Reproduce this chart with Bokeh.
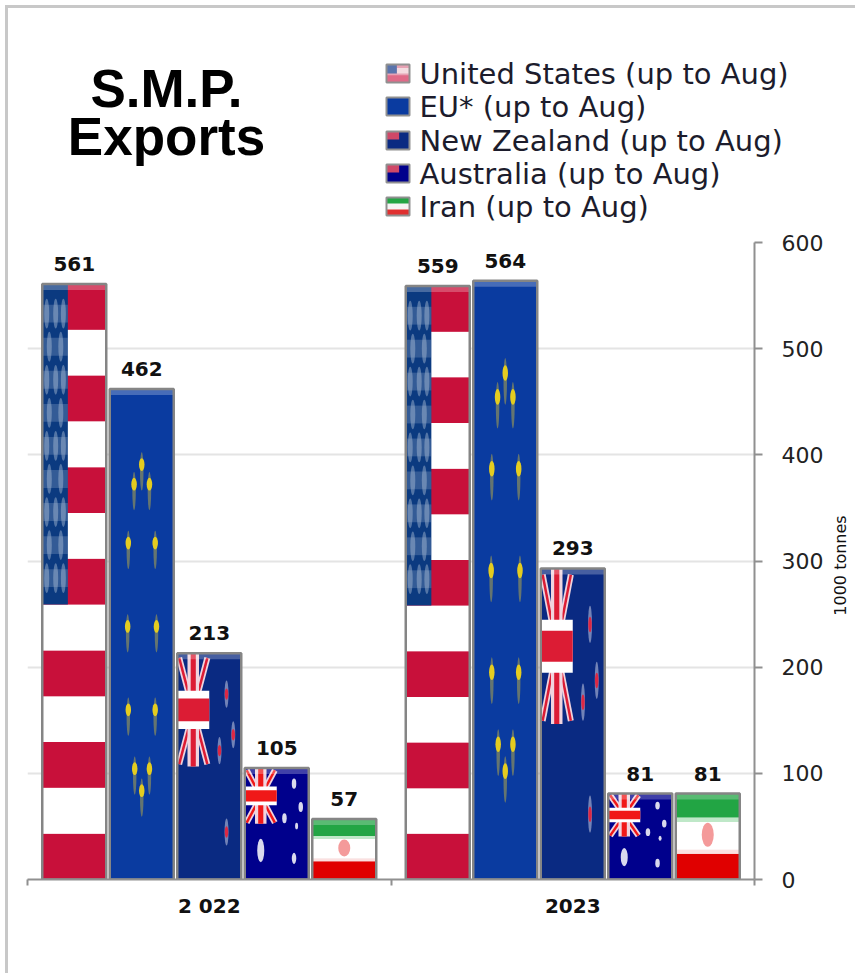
import math

from bokeh.embed import file_html
from bokeh.resources import INLINE
from bokeh.plotting import figure
from bokeh.layouts import column, row
from bokeh.models import Range1d, FixedTicker
from bokeh.core.properties import value

years = ["2 022", "2023"]
countries = ["United States", "EU*", "New Zealand", "Australia", "Iran"]
us = [561, 559]
eu = [462, 564]
nz = [213, 293]
au = [105, 81]
ir = [57, 81]
series = [us, eu, nz, au, ir]
y_ticks = [0, 100, 200, 300, 400, 500, 600]

W, SIDE_W, TOP_H, H = 825, 22, 217, 748
B_L, B_R, B_T, B_B = 19, 79, 17, 94
XPX = 2 / (W - B_L - B_R)
YPX = 600 / (H - B_T - B_B)
PITCH = 67.5 * XPX
BW = 64 * XPX

# ---- header figure: title and legend ----
head = figure(width=W + SIDE_W, height=TOP_H, output_backend="svg", toolbar_location=None,
              x_range=Range1d(0, W + SIDE_W), y_range=Range1d(TOP_H, 0),
              min_border=0, x_axis_type=None, y_axis_type=None)
head.frame_align = False
head.outline_line_color = None
head.grid.visible = False
head.text(x=[158], y=[104], text=["S.M.P.\nExports"], text_align="center",
          text_baseline="middle", text_font=value("Liberation Sans"),
          text_font_style="bold", text_font_size="53px", text_line_height=0.82,
          text_color="black")

ROW_Y = [65, 98, 132, 165, 198]
SW_X, SW_W, SW_H = 378, 23, 18
head.text(x=[SW_X + 33] * 5, y=ROW_Y, text=[f"{c} (up to Aug)" for c in countries],
          text_baseline="middle", text_font=value("DejaVu Sans"), text_font_size="29px",
          text_color="#1c1c2c")


def swatch(row_i, color, fx0, fx1, fy0, fy1):
    y0 = ROW_Y[row_i] - SW_H / 2
    head.quad(left=[SW_X + SW_W * fx0], right=[SW_X + SW_W * fx1],
              top=[y0 + SW_H * fy0], bottom=[y0 + SW_H * fy1],
              fill_color=color, line_color=None)


swatch(0, "#e7a2b4", 0, 1, 0, 1)
swatch(0, "#f4dbe0", 0.45, 1, 0.2, 0.5)
swatch(0, "#e06a88", 0, 1, 0.6, 1)
swatch(0, "#5a74ac", 0, 0.45, 0, 0.5)
swatch(1, "#0a3ba0", 0, 1, 0, 1)
swatch(2, "#0a2a82", 0, 1, 0, 1)
swatch(2, "#d04868", 0, 0.55, 0, 0.45)
swatch(3, "#00008c", 0, 1, 0, 1)
swatch(3, "#d04868", 0, 0.55, 0, 0.45)
swatch(4, "#f4f4f4", 0, 1, 0, 1)
swatch(4, "#22a544", 0, 1, 0, 0.33)
swatch(4, "#e03030", 0, 1, 0.67, 1)
head.quad(left=[SW_X] * 5, right=[SW_X + SW_W] * 5,
          top=[y - SW_H / 2 for y in ROW_Y], bottom=[y + SW_H / 2 for y in ROW_Y],
          fill_color=None, line_color="#909090", line_width=2)

# ---- narrow strip that carries the unit label ----
side = figure(width=SIDE_W, height=H, output_backend="svg", toolbar_location=None,
              x_range=Range1d(0, SIDE_W), y_range=Range1d(H, 0),
              min_border=0, x_axis_type=None, y_axis_type=None)
side.frame_align = False
side.outline_line_color = None
side.grid.visible = False
side.text(x=[7], y=[340], text=["1000 tonnes"], angle=math.pi / 2,
          text_align="center", text_baseline="middle", text_font=value("DejaVu Sans"),
          text_font_size="16px", text_color="#111111")

# ---- chart ----
p = figure(width=W, height=H, output_backend="svg", toolbar_location=None,
           x_range=Range1d(0, 2), y_range=Range1d(0, 600),
           y_axis_location="right", min_border_left=B_L, min_border_right=B_R,
           min_border_top=B_T, min_border_bottom=B_B,
           background_fill_color="white", border_fill_color="white")
p.frame_align = False
p.outline_line_color = None

p.xgrid.visible = False
p.ygrid.ticker = FixedTicker(ticks=y_ticks)
p.ygrid.grid_line_color = "#e4e4e4"
p.ygrid.grid_line_width = 2
xa, ya = p.xaxis[0], p.yaxis[0]
xa.ticker = FixedTicker(ticks=[0.5, 1.5], minor_ticks=[0, 1, 2])
xa.major_label_overrides = {0.5: years[0], 1.5: years[1]}
xa.major_tick_line_color = None
xa.minor_tick_in, xa.minor_tick_out = 0, 6
xa.minor_tick_line_color = "#909090"
xa.minor_tick_line_width = 2
xa.axis_line_color = "#909090"
xa.axis_line_width = 2
xa.major_label_text_font = "DejaVu Sans"
xa.major_label_text_font_style = "bold"
xa.major_label_text_font_size = "20px"
xa.major_label_text_color = "#111111"
xa.major_label_standoff = 8
ya.ticker = FixedTicker(ticks=y_ticks)
ya.minor_tick_line_color = None
ya.major_tick_in, ya.major_tick_out = 0, 8
ya.major_tick_line_color = "#909090"
ya.major_tick_line_width = 2
ya.axis_line_color = "#909090"
ya.axis_line_width = 2
ya.major_label_text_font = "DejaVu Sans"
ya.major_label_text_font_size = "22px"
ya.major_label_text_color = "#222222"
ya.major_label_standoff = 19


def centre(i, j):
    return j + 0.5 + (i - 2) * PITCH


def rect(i, color, x0, x1, y0, y1, alpha=1.0):
    """A rectangle given in fractions of every bar of country i."""
    v = series[i]
    xs = [centre(i, j) - BW / 2 for j in range(2)]
    return p.quad(left=[a + x0 * BW for a in xs], right=[a + x1 * BW for a in xs],
                  bottom=[t * y0 for t in v], top=[t * y1 for t in v],
                  fill_color=color, fill_alpha=alpha, line_color=None)


def oval(i, color, fx, fy, w_px, h_frac, alpha=1.0, min_h=0):
    v = series[i]
    xs = [centre(i, j) - BW / 2 + fx * BW for j in range(2)]
    p.ellipse(x=xs, y=[t * fy for t in v], width=w_px * XPX,
              height=[max(t * h_frac, min_h) for t in v],
              fill_color=color, fill_alpha=alpha, line_color=None)


def diag(i, color, width, x0, y0, x1, y1):
    v = series[i]
    xs = [centre(i, j) - BW / 2 for j in range(2)]
    p.segment(x0=[a + x0 * BW for a in xs], x1=[a + x1 * BW for a in xs],
              y0=[t * y0 for t in v], y1=[t * y1 for t in v],
              line_color=color, line_width=width)


def union(i, red="#dc1c34"):
    for c, w in (("#f0d4de", 6), (red, 2.5)):
        diag(i, c, w, 0.03, 0.98, 0.47, 0.51)
        diag(i, c, w, 0.47, 0.98, 0.03, 0.51)
    rect(i, "#f0d4de", 0.16, 0.34, 0.5, 1)
    rect(i, red, 0.21, 0.29, 0.5, 1)
    rect(i, "white", 0.0, 0.5, 0.665, 0.835)
    rect(i, red, 0.0, 0.5, 0.70, 0.80)


base_colors = ["#e7a2b4", "#0a3ba0", "#0a2a82", "#00008c", "#f4f4f4"]
for i in range(5):
    rect(i, base_colors[i], 0, 1, 0, 1)

# United States
for k in range(13):
    rect(0, "#c8103a" if k % 2 == 0 else "white", 0, 1, k / 13, (k + 1) / 13)
rect(0, "#0b3a80", 0, 0.40, 6 / 13, 1)
for r in range(9):
    fy = 1 - (0.05 + r * 0.0555)
    rect(0, "#9fb4d0", 0, 0.40, fy - 0.015, fy + 0.015, 0.28)
    for fx in ((0.07, 0.21, 0.33) if r % 2 == 0 else (0.11, 0.29)):
        oval(0, "#b8c8dc", fx, fy, 5, 0.05, 0.42)

# EU: twelve stars round a ring
ring = [(0.5, 0.84), (0.38, 0.80), (0.62, 0.80), (0.29, 0.68), (0.71, 0.68),
        (0.28, 0.51), (0.73, 0.51), (0.29, 0.34), (0.71, 0.34), (0.39, 0.22),
        (0.62, 0.22), (0.5, 0.175)]
for fx, fy in ring:
    oval(1, "#c0b040", fx, fy - 0.008, 3.5, 0.078, 0.5)
    oval(1, "#e4cc20", fx, fy + 0.006, 5.5, 0.026, 1)

# New Zealand
union(2)
for fx, fy in [(0.77, 0.82), (0.875, 0.64), (0.66, 0.57), (0.77, 0.21)]:
    oval(2, "#c8cce4", fx, fy, 4, 0.12, 0.55)
    oval(2, "#dc2844", fx, fy, 3.5, 0.05)

# Australia
union(3, "#f01818")
for fx, fy, w, h in [(0.77, 0.86, 4.5, 0.09), (0.875, 0.65, 4.5, 0.09), (0.62, 0.55, 4.5, 0.09),
                     (0.81, 0.48, 3, 0.06), (0.77, 0.19, 4.5, 0.10), (0.25, 0.26, 7, 0.21)]:
    oval(3, "white", fx, fy, w, h, 0.85, 4)

# Iran
rect(4, "#e00000", 0, 1, 0, 0.30)
rect(4, "#fbe0e0", 0, 1, 0.30, 0.35)
rect(4, "white", 0, 1, 0.35, 0.67)
rect(4, "#bfe8c8", 0, 1, 0.67, 0.72)
rect(4, "#22a544", 0, 1, 0.72, 1)
oval(4, "#f49a9a", 0.5, 0.52, 12, 0.28)

# bevel, outline and value of every bar
for i in range(5):
    v = series[i]
    xs = [centre(i, j) for j in range(2)]
    p.quad(left=[a - BW / 2 for a in xs], right=[a + BW / 2 for a in xs],
           bottom=[t - 6 * YPX for t in v], top=v,
           fill_color="white", fill_alpha=0.25, line_color=None)
    p.quad(left=[a - BW / 2 for a in xs], right=[a + BW / 2 for a in xs],
           bottom=[0, 0], top=v, fill_color=None, line_color="#858585", line_width=2.5)
    p.text(x=xs, y=v, text=[str(t) for t in v], y_offset=-20,
           text_align="center", text_baseline="middle",
           text_font=value("DejaVu Sans"), text_font_style="bold",
           text_font_size="20px", text_color="#111111")

page = column(head, row(p, side, spacing=0), spacing=0, margin=(5, 0, 0, 5),
              styles={"border-left": "3px solid #c8c8c8", "border-top": "3px solid #c8c8c8"})

open("out.html", "w").write(file_html(page, INLINE))
